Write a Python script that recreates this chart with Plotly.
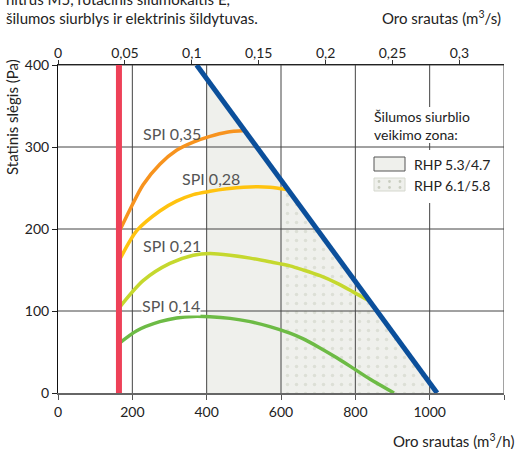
import plotly.graph_objects as go

# ---------------- data ----------------
flow_ticks = [0, 200, 400, 600, 800, 1000, 1200]
flow_ticks_s = [0, 0.05, 0.1, 0.15, 0.2, 0.25, 0.3]
flow_ticks_s_text = ["0", "0,05", "0,1", "0,15", "0,2", "0,25", "0,3"]
pressure_ticks = [0, 100, 200, 300, 400]

spi035_x = [163, 194, 229, 274, 319, 364, 409, 454, 503]
spi035_y = [195, 224, 254, 279, 296, 306, 313, 318, 320]

spi028_x = [163, 212, 274, 319, 364, 409, 454, 499, 570, 615]
spi028_y = [160, 198, 222, 234, 242, 246, 249, 251, 251, 248]

spi021_x = [163, 229, 301, 364, 409, 463, 517, 570, 624, 660, 705, 750, 795, 839]
spi021_y = [103, 137, 158, 168, 170, 168, 164.5, 160, 155, 150, 143, 134, 123, 112]

spi014_x = [163, 212, 274, 319, 364, 409, 463, 517, 570, 624, 660, 705, 750, 795, 839, 904]
spi014_y = [60, 76, 87, 91.5, 93.4, 93, 91, 87, 81, 73, 66, 55, 43, 30, 17, 0]

min_flow_x = [164, 164]
min_flow_y = [0, 400]

max_line_x = [373, 1020]
max_line_y = [400, 0]

zone1_x = [400, 400, 600, 600]   # RHP 5.3/4.7 zone limits (flow)
zone2_x = [600, 600, 1020]       # RHP 6.1/5.8 zone limits (flow)

curve_labels = ["SPI 0,35", "SPI 0,28", "SPI 0,21", "SPI 0,14"]
legend_labels = ["RHP 5.3/4.7", "RHP 6.1/5.8"]

# ---------------- helpers ----------------
W, H = 518, 449
ML, MR, MT, MB = 58, 14, 65, 56
PW, PH = W - ML - MR, H - MT - MB


def px(x):
    return (x - ML) / PW


def py(y):
    return (H - MB - y) / PH


def on_max_line(x):
    x0, x1 = max_line_x
    y0, y1 = max_line_y
    return y0 + (x - x0) * (y1 - y0) / (x1 - x0)


FONT = "Lato"
TXT = "#222222"
FILL = "#eff0ec"
DOT = "#c9cdc0"
GRID = "#444444"

fig = go.Figure()

# zone fills
z1y = [0, on_max_line(zone1_x[1]), on_max_line(zone1_x[2]), 0]
fig.add_trace(go.Scatter(x=zone1_x, y=z1y, fill="toself", fillcolor=FILL,
                         mode="none", showlegend=False, hoverinfo="skip"))
z2y = [0, on_max_line(zone2_x[1]), 0]
fig.add_trace(go.Scatter(x=zone2_x, y=z2y, fill="toself", fillcolor=FILL,
                         fillpattern=dict(shape=".", fgcolor=DOT, bgcolor=FILL,
                                          size=9, solidity=0.12, fillmode="overlay"),
                         mode="none", showlegend=False, hoverinfo="skip"))

# grid lines (drawn over the zone fills)
gx, gy = [], []
for v in flow_ticks[1:]:
    gx += [v, v, None]
    gy += [pressure_ticks[0], pressure_ticks[-1], None]
for h in pressure_ticks[1:]:
    gx += [flow_ticks[0], flow_ticks[-1], None]
    gy += [h, h, None]
fig.add_trace(go.Scatter(x=gx, y=gy, mode="lines", line=dict(color=GRID, width=1),
                         showlegend=False, hoverinfo="skip"))

# SPI curves
for xs, ys, col in [(spi014_x, spi014_y, "#6dbb45"),
                    (spi021_x, spi021_y, "#c5d82e"),
                    (spi028_x, spi028_y, "#ffc30f"),
                    (spi035_x, spi035_y, "#f7931e")]:
    fig.add_trace(go.Scatter(x=xs, y=ys, mode="lines",
                             line=dict(color=col, width=3.5, shape="spline", smoothing=0.8),
                             showlegend=False, hoverinfo="skip"))

# max line and min flow line
fig.add_trace(go.Scatter(x=max_line_x, y=max_line_y, mode="lines",
                         line=dict(color="#0b4f9b", width=5), showlegend=False, hoverinfo="skip"))
fig.add_trace(go.Scatter(x=min_flow_x, y=min_flow_y, mode="lines",
                         line=dict(color="#ee4158", width=6), showlegend=False, hoverinfo="skip"))

# dummy trace for the top axis
fig.add_trace(go.Scatter(x=[flow_ticks_s[0], flow_ticks[-1] / 3600], y=[None, None],
                         xaxis="x2", mode="lines", showlegend=False, hoverinfo="skip"))

fig.update_layout(
    width=W, height=H,
    margin=dict(l=ML, r=MR, t=MT, b=MB),
    paper_bgcolor="white", plot_bgcolor="white",
    font=dict(family=FONT, size=14, color=TXT),
    xaxis=dict(range=[flow_ticks[0], flow_ticks[-1]], tickvals=flow_ticks,
               ticks="outside", ticklen=5, tickcolor="#555", showgrid=False,
               showline=True, linecolor="#666", linewidth=1.5, zeroline=False,
               tickfont=dict(size=14)),
    xaxis2=dict(overlaying="x", side="top", range=[0, flow_ticks[-1] / 3600],
                tickvals=flow_ticks_s, ticktext=flow_ticks_s_text,
                ticks="outside", ticklen=4, tickcolor="#333", showgrid=False,
                showline=True, linecolor="#222", linewidth=1, zeroline=False,
                ticklabelstandoff=-4, tickfont=dict(size=14)),
    yaxis=dict(range=[pressure_ticks[0], pressure_ticks[-1]], tickvals=pressure_ticks,
               ticks="outside", ticklen=5, tickcolor="#222", showgrid=False,
               showline=True, linecolor="#111", linewidth=1, zeroline=False,
               tickfont=dict(size=14)),
)

shapes = []
# white box behind the zone legend
shapes.append(dict(type="rect", xref="paper", yref="paper", layer="above",
                   x0=px(362), x1=px(498), y0=py(143), y1=py(107),
                   fillcolor="white", line=dict(width=0)))
shapes.append(dict(type="rect", xref="paper", yref="paper", layer="above",
                   x0=px(362), x1=px(498), y0=py(203), y1=py(150),
                   fillcolor="white", line=dict(width=0)))
# legend swatches
shapes.append(dict(type="rect", xref="paper", yref="paper", layer="above",
                   x0=px(374), x1=px(405), y0=py(171), y1=py(157),
                   fillcolor=FILL, line=dict(color="#555", width=1)))
shapes.append(dict(type="rect", xref="paper", yref="paper", layer="above",
                   x0=px(374), x1=px(405), y0=py(191), y1=py(178),
                   fillcolor=FILL, line=dict(color="#d5d8ce", width=1)))
for cx in (379, 389.5, 400):
    for cy in (181.5, 187.5):
        shapes.append(dict(type="circle", xref="paper", yref="paper", layer="above",
                           x0=px(cx - 1.4), x1=px(cx + 1.4), y0=py(cy + 1.4), y1=py(cy - 1.4),
                           fillcolor=DOT, line=dict(width=0)))
fig.update_layout(shapes=shapes)

ann = []


def add_text(text, x, y, xanchor="left", size=14, color=TXT, **kw):
    ann.append(dict(text=text, x=px(x), y=py(y), xref="paper", yref="paper",
                    xanchor=xanchor, yanchor="middle", showarrow=False,
                    font=dict(family=FONT, size=size, color=color), **kw))


add_text("nitrus M5, rotacinis šilumokaitis E,", 4, -1, size=15)
add_text("šilumos siurblys ir elektrinis šildytuvas.", 4, 18, size=15)
add_text("Oro srautas (m<sup>3</sup>/s)", 503, 17, xanchor="right", size=15)
add_text("Oro srautas (m<sup>3</sup>/h)", 516, 440, xanchor="right", size=15)
ann.append(dict(text="Statinis slėgis (Pa)", x=px(12), y=py(117), xref="paper", yref="paper",
                xanchor="center", yanchor="middle", textangle=-90, showarrow=False,
                font=dict(family=FONT, size=15, color=TXT)))

label_pos = [(141, 133), (180, 178.5), (141, 245), (141, 305)]
for i, (t, (lx, ly)) in enumerate(zip(curve_labels, label_pos)):
    extra = dict(bgcolor="white", borderpad=0) if i == 3 else {}
    add_text(t, lx, ly, size=16, color="#555555", **extra)

add_text("Šilumos siurblio<br>veikimo zona:", 372, 125, size=14, align="left")
add_text(legend_labels[0], 412, 164.5, size=14)
add_text(legend_labels[1], 412, 185, size=14)

fig.update_layout(annotations=ann)
fig.write_html("out.html", config={"displayModeBar": False},
               post_script="document.body.style.margin='0px';")
